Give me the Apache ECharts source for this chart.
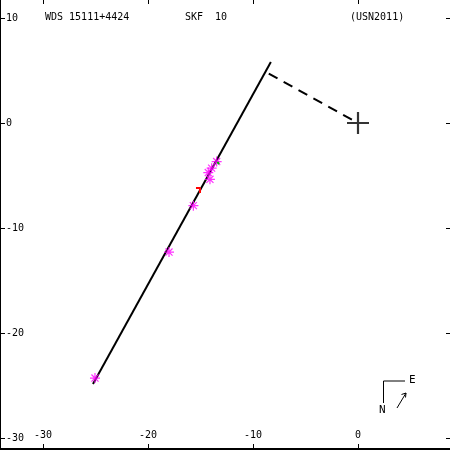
<!DOCTYPE html>
<html>
<head>
<meta charset="utf-8">
<script src="https://cdn.jsdelivr.net/npm/echarts@6/dist/echarts.min.js"></script>
<style>html,body{margin:0;padding:0;background:#fff}#c{width:450px;height:450px}</style>
</head>
<body>
<div id="c"></div>
<script>
// Data (arcseconds offsets, x = east-west, y = north-south as plotted)
const xTicks = [-30, -20, -10, 0];
const yTicks = [-30, -20, -10, 0, 10];
const orbitX = [-25.24, -8.3];
const orbitY = [-24.86, 5.8];
const nodeX = [-8.5, 0];
const nodeY = [4.7, 0];
const obsX = [-25.05, -18.0, -15.68, -14.1, -14.26, -13.94, -13.46];
const obsY = [-24.29, -12.29, -7.87, -5.36, -4.72, -4.30, -3.67];
const redX = [-15.43, -15.05, -15.05];
const redY = [-6.19, -6.19, -6.67];
const greenX = [-13.4, -13.22];
const greenY = [-3.72, -3.9];
const primaryX = [0];
const primaryY = [0];

const font = '"DejaVu Sans Mono", monospace';
const pxPerUnit = 10.5;
const xMin = -358 / pxPerUnit, xMax = xMin + 450 / pxPerUnit;
const yMax = 123 / pxPerUnit, yMin = yMax - 449 / pxPerUnit;

const zip = (a, b) => a.map((v, i) => [v, b[i]]);
const asterisk = 'path://M-0.6,-5L0.6,-5L0.6,5L-0.6,5Z M-5,-0.6L5,-0.6L5,0.6L-5,0.6Z M-3.96,-3.1L-3.1,-3.96L3.96,3.1L3.1,3.96Z M3.1,-3.96L3.96,-3.1L-3.1,3.96L-3.96,3.1Z';
const plus = 'path://M-1,-10L1,-10L1,10L-1,10Z M-10,-1L10,-1L10,1L-10,1Z';

const chart = echarts.init(document.getElementById('c'), null, {renderer: 'canvas'});
chart.setOption({
  animation: false,
  backgroundColor: '#fff',
  title: [
    {text: 'WDS 15111+4424', left: 45, top: 12, padding: 0, textStyle: {fontFamily: font, fontSize: 10, fontWeight: 'normal', color: '#000'}},
    {text: 'SKF  10', left: 185, top: 12, padding: 0, textStyle: {fontFamily: font, fontSize: 10, fontWeight: 'normal', color: '#000'}},
    {text: '(USN2011)', left: 350, top: 12, padding: 0, textStyle: {fontFamily: font, fontSize: 10, fontWeight: 'normal', color: '#000'}}
  ],
  grid: {left: 0, right: 0, top: 0, bottom: 1, containLabel: false},
  xAxis: [
    {type: 'value', min: xMin, max: xMax, position: 'bottom',
     axisLine: {show: true, onZero: false, lineStyle: {color: '#000', width: 2}},
     axisTick: {show: true, inside: true, length: 5, customValues: xTicks, lineStyle: {color: '#000'}},
     axisLabel: {show: true, inside: true, margin: 9, customValues: xTicks, fontFamily: font, fontSize: 10, color: '#000'},
     splitLine: {show: false}},
    {type: 'value', min: xMin, max: xMax, position: 'top',
     axisLine: {show: false, onZero: false},
     axisTick: {show: true, inside: true, length: 4, customValues: xTicks, lineStyle: {color: '#000'}},
     axisLabel: {show: false}, splitLine: {show: false}}
  ],
  yAxis: [
    {type: 'value', min: yMin, max: yMax, position: 'left',
     axisLine: {show: true, onZero: false, lineStyle: {color: '#000', width: 2}},
     axisTick: {show: true, inside: true, length: 5, customValues: yTicks, lineStyle: {color: '#000'}},
     axisLabel: {show: true, inside: true, margin: 6, customValues: yTicks, fontFamily: font, fontSize: 10, color: '#000'},
     splitLine: {show: false}},
    {type: 'value', min: yMin, max: yMax, position: 'right',
     axisLine: {show: false, onZero: false},
     axisTick: {show: true, inside: true, length: 4, customValues: yTicks, lineStyle: {color: '#000'}},
     axisLabel: {show: false}, splitLine: {show: false}}
  ],
  series: [
    {type: 'line', data: zip(orbitX, orbitY), showSymbol: false, symbol: 'none', lineStyle: {color: '#000', width: 2}, z: 3},
    {type: 'line', data: zip(nodeX, nodeY), showSymbol: false, symbol: 'none', lineStyle: {color: '#000', width: 2, type: [10, 7]}, z: 3},
    {type: 'scatter', data: zip(obsX, obsY), symbol: asterisk, symbolSize: 10, itemStyle: {color: '#ff00ff'}, z: 4},
    {type: 'line', data: zip(redX, redY), showSymbol: false, symbol: 'none', lineStyle: {color: '#ff0000', width: 2}, z: 5},
    {type: 'line', data: zip(greenX, greenY), showSymbol: false, symbol: 'none', lineStyle: {color: '#00b000', width: 2}, z: 5},
    {type: 'scatter', data: zip(primaryX, primaryY), symbol: plus, symbolSize: 22, itemStyle: {color: '#000'}, z: 5}
  ],
  graphic: [
    {type: 'polyline', shape: {points: [[405, 381], [383.5, 381], [383.5, 403]]}, style: {stroke: '#000', lineWidth: 1, fill: null}},
    {type: 'text', left: 409, top: 375, style: {text: 'E', font: '11px ' + font, fill: '#000'}},
    {type: 'text', left: 379, top: 405, style: {text: 'N', font: '11px ' + font, fill: '#000'}},
    {type: 'line', shape: {x1: 397, y1: 408, x2: 406, y2: 393}, style: {stroke: '#000', lineWidth: 1}},
    {type: 'polyline', shape: {points: [[401.5, 394.5], [406, 393], [405.5, 397.5]]}, style: {stroke: '#000', lineWidth: 1, fill: null}}
  ]
});
</script>
</body>
</html>
